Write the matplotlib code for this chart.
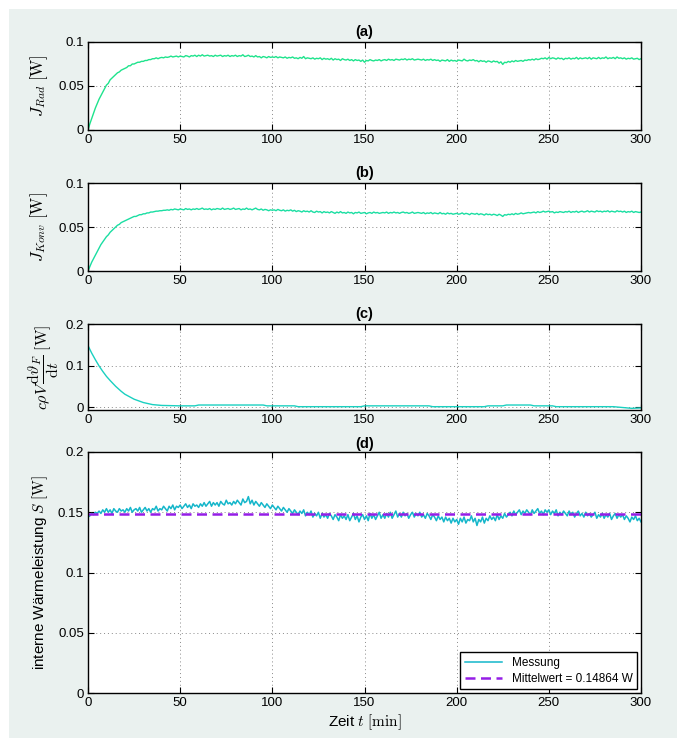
import numpy as np
import matplotlib
matplotlib.use("Agg")
import matplotlib.pyplot as plt
from matplotlib.patches import Rectangle
from matplotlib.ticker import FuncFormatter

plt.rcParams['font.family'] = ['Liberation Sans', 'DejaVu Sans']
plt.rcParams['mathtext.fontset'] = 'cm'

# time in minutes, one sample per minute
t = np.arange(0, 301)

# (a) radiation
J_rad = [
    0.000, 0.007, 0.013, 0.019, 0.025, 0.030, 0.035, 0.039, 0.043, 0.047,
    0.051, 0.053, 0.057, 0.059, 0.061, 0.063, 0.065, 0.066, 0.068, 0.069,
    0.070, 0.071, 0.073, 0.073, 0.075, 0.075, 0.076, 0.077, 0.077, 0.078,
    0.078, 0.079, 0.079, 0.080, 0.080, 0.081, 0.081, 0.082, 0.081, 0.082,
    0.0825, 0.082, 0.083, 0.0825, 0.083, 0.084, 0.083, 0.0835, 0.084, 0.083,
    0.084, 0.0835, 0.083, 0.0845, 0.084, 0.083, 0.0845, 0.084, 0.085, 0.0835,
    0.085, 0.084, 0.0855, 0.084, 0.0845, 0.085, 0.084, 0.0845, 0.0835, 0.085,
    0.084, 0.0845, 0.085, 0.0835, 0.0845, 0.084, 0.085, 0.0835, 0.0845, 0.084,
    0.085, 0.0835, 0.0845, 0.084, 0.0855, 0.0835, 0.084, 0.085, 0.0835, 0.084,
    0.083, 0.0845, 0.083, 0.0835, 0.082, 0.0835, 0.083, 0.082, 0.0835, 0.0825,
    0.083, 0.0825, 0.0835, 0.082, 0.083, 0.0825, 0.082, 0.083, 0.0815, 0.0825,
    0.082, 0.083, 0.0815, 0.082, 0.081, 0.0825, 0.0815, 0.0835, 0.081, 0.082,
    0.0815, 0.081, 0.082, 0.0805, 0.0815, 0.081, 0.082, 0.080, 0.0815, 0.0805,
    0.081, 0.080, 0.0815, 0.0795, 0.081, 0.080, 0.0805, 0.079, 0.081, 0.080,
    0.0795, 0.0805, 0.079, 0.080, 0.0785, 0.080, 0.079, 0.0795, 0.078, 0.0795,
    0.077, 0.079, 0.0785, 0.080, 0.079, 0.0785, 0.0795, 0.079, 0.080, 0.0785,
    0.0795, 0.080, 0.079, 0.0805, 0.0795, 0.080, 0.079, 0.0805, 0.080, 0.0795,
    0.0805, 0.080, 0.081, 0.0795, 0.0805, 0.080, 0.081, 0.0795, 0.080, 0.0805,
    0.080, 0.0795, 0.0805, 0.079, 0.080, 0.0795, 0.0805, 0.079, 0.080, 0.079,
    0.0795, 0.078, 0.0795, 0.079, 0.0785, 0.080, 0.078, 0.0795, 0.0785, 0.079,
    0.078, 0.0795, 0.079, 0.0785, 0.0805, 0.079, 0.0785, 0.0795, 0.079, 0.080,
    0.0785, 0.079, 0.0775, 0.079, 0.078, 0.0785, 0.077, 0.0785, 0.078, 0.077,
    0.0785, 0.0775, 0.078, 0.076, 0.0775, 0.0745, 0.077, 0.0765, 0.078, 0.077,
    0.0785, 0.0775, 0.079, 0.078, 0.0785, 0.079, 0.078, 0.0795, 0.079, 0.080,
    0.0795, 0.0805, 0.0795, 0.081, 0.080, 0.0805, 0.0815, 0.081, 0.082, 0.0805,
    0.0825, 0.081, 0.082, 0.0815, 0.0805, 0.082, 0.081, 0.0815, 0.080, 0.0815,
    0.081, 0.082, 0.0805, 0.0815, 0.081, 0.0825, 0.0805, 0.082, 0.081, 0.0815,
    0.082, 0.081, 0.0825, 0.0805, 0.082, 0.0815, 0.081, 0.0825, 0.081, 0.082,
    0.0815, 0.083, 0.081, 0.082, 0.0815, 0.0825, 0.081, 0.083, 0.0815, 0.082,
    0.081, 0.082, 0.0805, 0.0815, 0.081, 0.082, 0.0805, 0.081, 0.0815, 0.080,
    0.081,
]

# (b) convection
J_konv = [
    0.000, 0.005, 0.010, 0.014, 0.018, 0.022, 0.026, 0.030, 0.033, 0.036,
    0.039, 0.041, 0.044, 0.046, 0.048, 0.050, 0.052, 0.053, 0.055, 0.056,
    0.057, 0.058, 0.059, 0.060, 0.061, 0.062, 0.062, 0.063, 0.064, 0.064,
    0.065, 0.065, 0.066, 0.066, 0.067, 0.067, 0.0675, 0.068, 0.068, 0.0685,
    0.0685, 0.069, 0.069, 0.0695, 0.069, 0.070, 0.0695, 0.0705, 0.070, 0.0695,
    0.0705, 0.070, 0.0695, 0.071, 0.070, 0.0705, 0.0695, 0.0705, 0.070, 0.071,
    0.070, 0.0705, 0.0715, 0.070, 0.0705, 0.070, 0.071, 0.0695, 0.0705, 0.070,
    0.071, 0.0705, 0.070, 0.0715, 0.070, 0.0705, 0.071, 0.070, 0.0705, 0.0715,
    0.070, 0.0705, 0.071, 0.0695, 0.0705, 0.070, 0.0715, 0.070, 0.0705, 0.0695,
    0.0705, 0.0715, 0.070, 0.0695, 0.0705, 0.069, 0.070, 0.0695, 0.0685, 0.0695,
    0.069, 0.0695, 0.0685, 0.070, 0.069, 0.0685, 0.0695, 0.068, 0.069, 0.0685,
    0.0695, 0.068, 0.069, 0.0675, 0.0685, 0.068, 0.067, 0.0685, 0.0675, 0.068,
    0.067, 0.0685, 0.067, 0.0665, 0.068, 0.067, 0.0675, 0.066, 0.0675, 0.0665,
    0.067, 0.066, 0.0675, 0.0665, 0.0655, 0.067, 0.066, 0.0675, 0.066, 0.0665,
    0.0655, 0.067, 0.066, 0.0665, 0.065, 0.0665, 0.066, 0.067, 0.0655, 0.066,
    0.0665, 0.065, 0.066, 0.0665, 0.0655, 0.067, 0.066, 0.0665, 0.0655, 0.066,
    0.0665, 0.066, 0.067, 0.0655, 0.0665, 0.066, 0.067, 0.066, 0.0665, 0.0655,
    0.0665, 0.067, 0.066, 0.0665, 0.0655, 0.066, 0.067, 0.0655, 0.066, 0.0665,
    0.066, 0.0655, 0.0665, 0.065, 0.066, 0.0655, 0.0665, 0.065, 0.066, 0.0655,
    0.065, 0.0665, 0.065, 0.0655, 0.0645, 0.066, 0.065, 0.0655, 0.0645, 0.065,
    0.0655, 0.0645, 0.065, 0.066, 0.0645, 0.0655, 0.065, 0.064, 0.0655, 0.065,
    0.0645, 0.0655, 0.064, 0.065, 0.0645, 0.0635, 0.065, 0.064, 0.0645, 0.0635,
    0.0645, 0.064, 0.063, 0.0645, 0.0635, 0.062, 0.064, 0.0635, 0.0645, 0.064,
    0.065, 0.064, 0.0655, 0.0645, 0.065, 0.066, 0.065, 0.0655, 0.066, 0.0665,
    0.066, 0.0665, 0.067, 0.066, 0.0675, 0.0665, 0.067, 0.068, 0.067, 0.0675,
    0.068, 0.067, 0.0675, 0.066, 0.067, 0.0665, 0.0675, 0.067, 0.0665, 0.0675,
    0.067, 0.068, 0.0665, 0.0675, 0.067, 0.068, 0.0665, 0.0675, 0.068, 0.067,
    0.0675, 0.0685, 0.067, 0.068, 0.0675, 0.067, 0.0685, 0.0675, 0.068, 0.067,
    0.068, 0.0675, 0.0685, 0.067, 0.068, 0.0675, 0.067, 0.0685, 0.0675, 0.068,
    0.067, 0.068, 0.0665, 0.0675, 0.067, 0.068, 0.0665, 0.0675, 0.067, 0.0665,
    0.067,
]

# (c) stored heat, smooth curve -> fewer points
t_c = [0, 2, 4, 6, 8, 10, 12, 15, 18, 20, 25, 30, 35, 40, 50, 58, 60, 95, 97,
       112, 114, 148, 150, 185, 187, 215, 217, 225, 227, 240, 242, 252, 254,
       285, 290, 295, 300]
P_speicher = [0.148, 0.130, 0.114, 0.099, 0.086, 0.074, 0.064, 0.050, 0.038,
              0.031, 0.019, 0.011, 0.006, 0.004, 0.003, 0.003, 0.005, 0.005,
              0.003, 0.003, 0.001, 0.001, 0.003, 0.003, 0.001, 0.001, 0.003,
              0.003, 0.005, 0.005, 0.003, 0.003, 0.001, 0.001, -0.001, -0.003,
              -0.002]

# (d) internal heat
S = [
    0.146, 0.147, 0.149, 0.148, 0.150, 0.149, 0.151, 0.149, 0.152, 0.150,
    0.153, 0.150, 0.152, 0.149, 0.153, 0.151, 0.150, 0.153, 0.151, 0.152,
    0.150, 0.153, 0.151, 0.154, 0.150, 0.152, 0.153, 0.151, 0.154, 0.150,
    0.152, 0.154, 0.151, 0.153, 0.150, 0.153, 0.152, 0.155, 0.151, 0.153,
    0.152, 0.155, 0.153, 0.151, 0.155, 0.153, 0.156, 0.152, 0.155, 0.154,
    0.156, 0.153, 0.155, 0.157, 0.154, 0.156, 0.153, 0.157, 0.155, 0.156,
    0.154, 0.157, 0.155, 0.158, 0.155, 0.157, 0.159, 0.155, 0.158, 0.156,
    0.158, 0.155, 0.159, 0.157, 0.156, 0.160, 0.157, 0.158, 0.156, 0.159,
    0.157, 0.160, 0.158, 0.156, 0.161, 0.158, 0.159, 0.163, 0.157, 0.160,
    0.156, 0.159, 0.157, 0.155, 0.158, 0.156, 0.154, 0.157, 0.155, 0.153,
    0.156, 0.154, 0.152, 0.155, 0.153, 0.151, 0.154, 0.152, 0.150, 0.153,
    0.151, 0.149, 0.152, 0.150, 0.148, 0.151, 0.149, 0.152, 0.147, 0.150,
    0.148, 0.151, 0.146, 0.149, 0.147, 0.150, 0.145, 0.149, 0.146, 0.148,
    0.145, 0.149, 0.147, 0.144, 0.148, 0.146, 0.143, 0.148, 0.145, 0.147,
    0.144, 0.148, 0.143, 0.146, 0.149, 0.144, 0.147, 0.142, 0.146, 0.148,
    0.144, 0.147, 0.143, 0.149, 0.145, 0.148, 0.144, 0.147, 0.150, 0.145,
    0.148, 0.145, 0.149, 0.146, 0.150, 0.145, 0.148, 0.151, 0.146, 0.149,
    0.146, 0.150, 0.147, 0.149, 0.145, 0.148, 0.150, 0.146, 0.149, 0.147,
    0.150, 0.146, 0.148, 0.145, 0.149, 0.147, 0.144, 0.148, 0.146, 0.143,
    0.147, 0.144, 0.146, 0.142, 0.146, 0.143, 0.145, 0.141, 0.145, 0.142,
    0.144, 0.140, 0.145, 0.142, 0.146, 0.141, 0.144, 0.143, 0.147, 0.142,
    0.145, 0.139, 0.144, 0.142, 0.146, 0.141, 0.145, 0.143, 0.147, 0.144,
    0.146, 0.143, 0.148, 0.144, 0.147, 0.145, 0.149, 0.146, 0.148, 0.150,
    0.147, 0.151, 0.148, 0.150, 0.152, 0.148, 0.151, 0.149, 0.152, 0.150,
    0.148, 0.152, 0.149, 0.151, 0.153, 0.149, 0.151, 0.148, 0.152, 0.150,
    0.152, 0.148, 0.151, 0.149, 0.152, 0.147, 0.150, 0.148, 0.151, 0.149,
    0.147, 0.151, 0.148, 0.150, 0.146, 0.149, 0.151, 0.147, 0.149, 0.146,
    0.150, 0.147, 0.149, 0.146, 0.148, 0.150, 0.145, 0.148, 0.146, 0.149,
    0.145, 0.148, 0.146, 0.149, 0.144, 0.147, 0.149, 0.145, 0.148, 0.146,
    0.148, 0.144, 0.147, 0.145, 0.142, 0.146, 0.144, 0.147, 0.143, 0.145,
    0.142,
]
S_mean = 0.14864

xticks = [0, 50, 100, 150, 200, 250, 300]

fig = plt.figure(figsize=(6.77, 7.38), dpi=100)
fig.patch.set_facecolor('white')
# matlab style figure background (white margin top/left)
fig.patches.append(Rectangle((9/677, 0), 1, 1 - 9/738, transform=fig.transFigure,
                             facecolor='#eaf1ef', edgecolor='none', zorder=-10))

L, W = 88/677, 553/677
def box(top, bottom):
    return [L, 1 - bottom/738, W, (bottom - top)/738]

fmt = FuncFormatter(lambda v, p: '%g' % v)

def style(ax, title, ylim, yticks):
    ax.set_xlim(0, 300)
    ax.set_ylim(*ylim)
    ax.set_xticks(xticks)
    ax.set_yticks(yticks)
    ax.yaxis.set_major_formatter(fmt)
    ax.tick_params(direction='in', top=True, right=True, labelsize=9.5,
                   length=4, width=0.8, pad=3)
    ax.grid(True, linestyle=(0, (1, 3)), color='#8a8a8a', linewidth=0.7)
    for s in ax.spines.values():
        s.set_linewidth(1.0)
    ax.set_title(title, fontsize=10.5, fontweight='bold', pad=4)

ax1 = fig.add_axes(box(42, 130))
ax1.plot(t, J_rad, color='#1ee38c', lw=1.0)
style(ax1, '(a)', (0, 0.1), [0, 0.05, 0.1])
ax1.set_ylabel(r'$J_{Rad}\ [\mathrm{W}]$', fontsize=12, labelpad=6)

ax2 = fig.add_axes(box(183, 271))
ax2.plot(t, J_konv, color='#1adea2', lw=1.0)
style(ax2, '(b)', (0, 0.1), [0, 0.05, 0.1])
ax2.set_ylabel(r'$J_{Konv}\ [\mathrm{W}]$', fontsize=12, labelpad=6)

ax3 = fig.add_axes(box(324, 410))
ax3.plot(t_c, P_speicher, color='#1ad0c0', lw=1.0)
style(ax3, '(c)', (-0.007, 0.2), [0, 0.1, 0.2])
ax3.set_ylabel(r'$c\rho V\,\dfrac{\mathrm{d}\vartheta_F}{\mathrm{d}t}\ [\mathrm{W}]$',
               fontsize=11.5, labelpad=3)

ax4 = fig.add_axes(box(452, 693))
ax4.plot(t, S, color='#14b6ca', lw=1.1, label='Messung')
ax4.axhline(S_mean, color='#951ee6', lw=1.8, linestyle=(0, (4, 2.2)),
            label='Mittelwert = %.5f W' % S_mean)
style(ax4, '(d)', (0, 0.2), [0, 0.05, 0.1, 0.15, 0.2])
ax4.set_title('(d)', fontsize=10.5, fontweight='bold', pad=3)
ax4.set_ylabel(r'interne Wärmeleistung $S\ [\mathrm{W}]$', fontsize=11, labelpad=6)
ax4.set_xlabel(r'Zeit $t\ [\mathrm{min}]$', fontsize=11, labelpad=2)
leg = ax4.legend(loc='lower right', fontsize=8.5, handlelength=3.2,
                 fancybox=False, framealpha=1, edgecolor='black',
                 borderaxespad=0.3, labelspacing=0.3, borderpad=0.4)
leg.get_frame().set_linewidth(1.0)

fig.savefig('out.png', dpi=100)
